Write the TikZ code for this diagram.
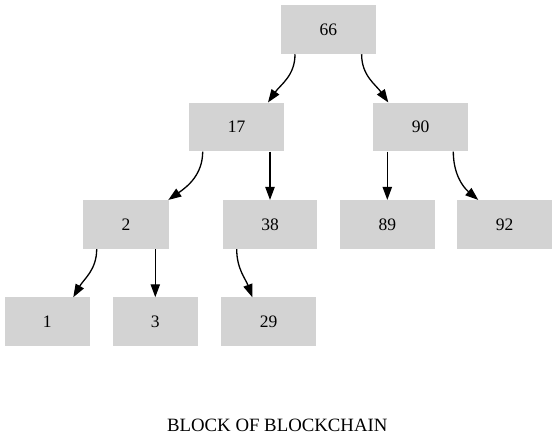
\documentclass[tikz,border=0pt]{standalone}
\usepackage{fontspec}
\setmainfont{Liberation Serif}
\usetikzlibrary{arrows.meta}
\definecolor{boxgray}{RGB}{211,211,211}
\tikzset{
  blk/.style={fill=boxgray, draw=none, minimum width=94.7pt, minimum height=48.7pt, inner sep=0pt, font=\fontsize{17.5}{20}\selectfont},
  blknarrow/.style={blk, minimum width=85.3pt},
  edge/.style={line width=1.3pt, -{Triangle[length=13pt,width=9.3pt]}}
}
\begin{document}
\begin{tikzpicture}[x=1pt,y=-1pt]
\useasboundingbox (0,0) rectangle (557,447);
\node[blk] (n66) at (328.3,29.7) {66};
\node[blk] (n17) at (236.7,127) {17};
\node[blk] (n90) at (420.7,127) {90};
\node[blknarrow] (n2) at (126,224.5) {2};
\node[blk] (n38) at (270,224.5) {38};
\node[blk] (n89) at (387.3,224.5) {89};
\node[blk] (n92) at (504.7,224.5) {92};
\node[blknarrow] (n1) at (47.3,321.8) {1};
\node[blknarrow] (n3) at (155.3,321.8) {3};
\node[blk] (n29) at (268.7,321.8) {29};
\node[font=\fontsize{18.8}{22}\selectfont] (cap) at (277.3,425.5) {BLOCK OF BLOCKCHAIN};

\draw[edge] ([xshift=-33.3pt]n66.south) to[out=-90,in=55] ([xshift=31.3pt]n17.north);
\draw[edge] ([xshift=33.3pt]n66.south) to[out=-90,in=125] ([xshift=-32.4pt]n90.north);
\draw[edge] ([xshift=-34pt]n17.south) to[out=-90,in=35] ([xshift=42.3pt]n2.north);
\draw[edge] ([xshift=33.3pt]n17.south) -- (n38.north);
\draw[edge] ([xshift=-33.4pt]n90.south) -- (n89.north);
\draw[edge] ([xshift=32.6pt]n90.south) to[out=-90,in=140] ([xshift=-26.4pt]n92.north);
\draw[edge] ([xshift=-29.3pt]n2.south) to[out=-90,in=60] ([xshift=26pt]n1.north);
\draw[edge] ([xshift=29.3pt]n2.south) -- (n3.north);
\draw[edge] ([xshift=-33.3pt]n38.south) to[out=-90,in=110] ([xshift=-16.4pt]n29.north);
\end{tikzpicture}
\end{document}
